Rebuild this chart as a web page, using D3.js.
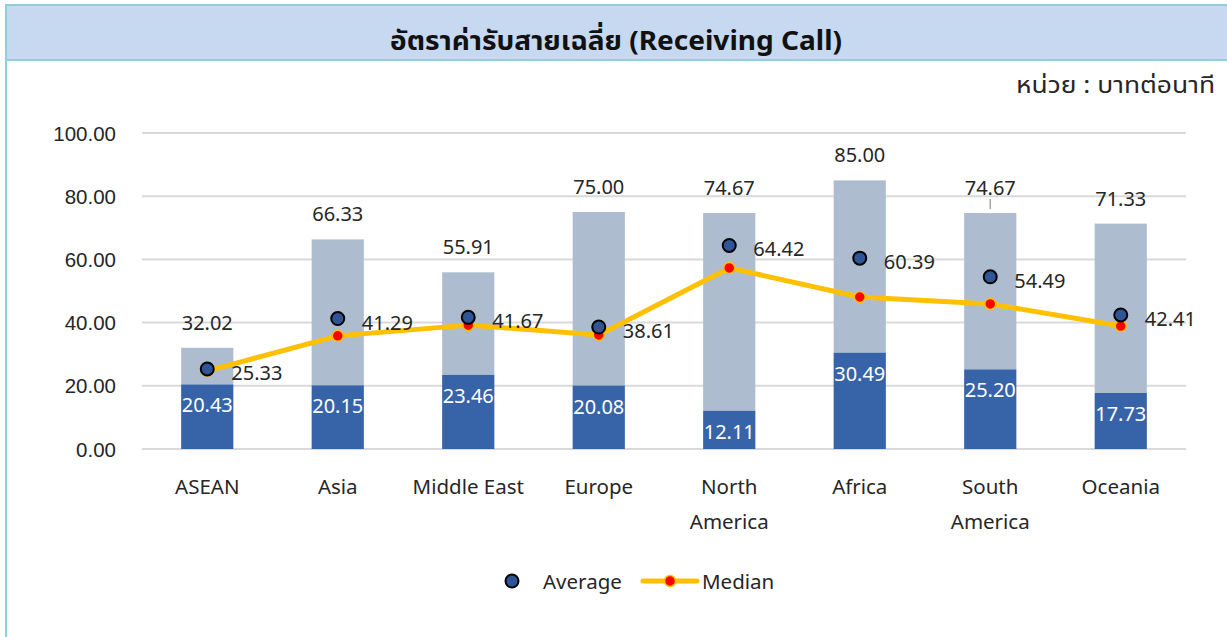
<!DOCTYPE html>
<html><head><meta charset="utf-8">
<script src="https://cdn.jsdelivr.net/npm/d3@7"></script>
<style>
body{margin:0;background:#fff;}
svg{display:block;font-family:"Noto Sans","Noto Sans Thai","Leelawadee UI",Tahoma,"DejaVu Sans",sans-serif;}
</style></head><body>
<svg id="c" width="1227" height="637"></svg>
<script>
const categories = [["ASEAN"],["Asia"],["Middle East"],["Europe"],["North","America"],["Africa"],["South","America"],["Oceania"]];
const minValues = [20.43,20.15,23.46,20.08,12.11,30.49,25.20,17.73];
const maxValues = [32.02,66.33,55.91,75.00,74.67,85.00,74.67,71.33];
const averageValues = [25.33,41.29,41.67,38.61,64.42,60.39,54.49,42.41];
const medianValues = [24.7,35.8,39.2,36.1,57.3,48.1,45.9,38.9];
const yTicks = [0,20,40,60,80,100];
const titleText = "อัตราค่ารับสายเฉลี่ย (Receiving Call)";
const unitText = "หน่วย : บาทต่อนาที";

const svg = d3.select("#c");
const W=1227,H=637;
const frame="#92CDDC";
const txt="#262626";
// frame
svg.append("rect").attr("x",6).attr("y",5).attr("width",W+10).attr("height",H+10).attr("fill","#fff").attr("stroke",frame).attr("stroke-width",2);
svg.append("rect").attr("x",6).attr("y",5).attr("width",W+10).attr("height",55).attr("fill","#C6D9F0").attr("stroke",frame).attr("stroke-width",2);
svg.append("text").attr("x",616).attr("y",50).attr("text-anchor","middle").attr("font-size",27).attr("font-weight","bold").attr("fill","#111")
 .attr("textLength",452).attr("lengthAdjust","spacingAndGlyphs").text(titleText);
svg.append("text").attr("x",1215).attr("y",93).attr("text-anchor","end").attr("font-size",23).attr("fill",txt)
 .attr("textLength",199).attr("lengthAdjust","spacingAndGlyphs").text(unitText);

const x = d3.scaleBand().domain(categories.map((d,i)=>i)).range([142,1186]).paddingInner(0.6).paddingOuter(0.3);
const y = d3.scaleLinear().domain([0,100]).range([449,133]);

// grid
svg.append("g").selectAll("line").data(yTicks).join("line")
 .attr("x1",142).attr("x2",1186).attr("y1",d=>y(d)).attr("y2",d=>y(d))
 .attr("stroke","#D9D9D9").attr("stroke-width",2);
// y axis labels
const yAxis = d3.axisLeft(y).tickValues(yTicks).tickFormat(d3.format(".2f")).tickSize(0).tickPadding(0);
const ya = svg.append("g").attr("transform","translate(116,0)").call(yAxis);
ya.select(".domain").remove();
ya.selectAll("text").attr("font-size",20.5).attr("fill",txt).attr("font-family","inherit").attr("dy","0.35em");

const idx = d3.range(categories.length);
const cx = i=>x(i)+x.bandwidth()/2;
// light bars (min..max)
svg.append("g").selectAll("rect").data(idx).join("rect")
 .attr("x",i=>x(i)).attr("width",x.bandwidth())
 .attr("y",i=>y(maxValues[i])).attr("height",i=>y(minValues[i])-y(maxValues[i]))
 .attr("fill","#ADBDCF");
// dark bars
svg.append("g").selectAll("rect").data(idx).join("rect")
 .attr("x",i=>x(i)).attr("width",x.bandwidth())
 .attr("y",i=>y(minValues[i])).attr("height",i=>y(0)-y(minValues[i]))
 .attr("fill","#3764A8");
// min labels
svg.append("g").selectAll("text").data(idx).join("text")
 .attr("x",cx).attr("y",i=>y(minValues[i])+28).attr("text-anchor","middle")
 .attr("font-size",20).attr("fill","#fff").text(i=>minValues[i].toFixed(2));
// max labels
svg.append("g").selectAll("text").data(idx).join("text")
 .attr("x",cx).attr("y",i=>y(maxValues[i])-18).attr("text-anchor","middle")
 .attr("font-size",20).attr("fill",txt).text(i=>maxValues[i].toFixed(2));
// leader line South America
svg.append("line").attr("x1",cx(6)).attr("x2",cx(6)).attr("y1",y(maxValues[6])-14).attr("y2",y(maxValues[6])-4).attr("stroke","#A6A6A6").attr("stroke-width",1.5);

// median line
const line = d3.line().x((d,i)=>cx(i)).y(d=>y(d));
svg.append("path").datum(medianValues).attr("d",line).attr("fill","none").attr("stroke","#FFC000").attr("stroke-width",5).attr("stroke-linejoin","round");
svg.append("g").selectAll("circle").data(medianValues).join("circle")
 .attr("cx",(d,i)=>cx(i)).attr("cy",d=>y(d)).attr("r",5.5).attr("fill","#FF0000").attr("stroke","#FFC000").attr("stroke-width",1.5);
// average dots
svg.append("g").selectAll("circle").data(averageValues).join("circle")
 .attr("cx",(d,i)=>cx(i)).attr("cy",d=>y(d)).attr("r",6.5).attr("fill","#2F5597").attr("stroke","#000").attr("stroke-width",2);
svg.append("g").selectAll("text").data(averageValues).join("text")
 .attr("x",(d,i)=>cx(i)+24).attr("y",d=>y(d)+11)
 .attr("font-size",20).attr("fill",txt).text(d=>d.toFixed(2));

// category labels
const xl = svg.append("g").selectAll("text").data(idx).join("text")
 .attr("x",cx).attr("y",494).attr("text-anchor","middle").attr("font-size",20.5).attr("fill",txt);
xl.selectAll("tspan").data(i=>categories[i]).join("tspan")
 .attr("x",function(){return this.parentNode.getAttribute("x");})
 .attr("dy",(d,j)=>j===0?0:35).text(d=>d);

// legend
svg.append("circle").attr("cx",512).attr("cy",581).attr("r",6.5).attr("fill","#2F5597").attr("stroke","#000").attr("stroke-width",2);
svg.append("text").attr("x",543).attr("y",589).attr("font-size",20.5).attr("fill",txt).text("Average");
svg.append("line").attr("x1",643).attr("x2",697).attr("y1",581).attr("y2",581).attr("stroke","#FFC000").attr("stroke-width",5).attr("stroke-linecap","round");
svg.append("circle").attr("cx",670).attr("cy",581).attr("r",5.5).attr("fill","#FF0000").attr("stroke","#FFC000").attr("stroke-width",1.5);
svg.append("text").attr("x",702).attr("y",589).attr("font-size",20.5).attr("fill",txt).text("Median");
</script></body></html>
